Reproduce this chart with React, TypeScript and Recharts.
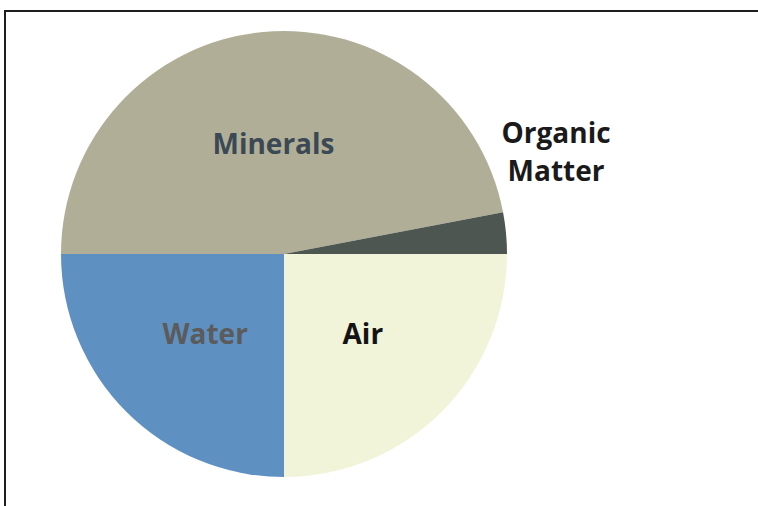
import { Pie, PieChart, Cell } from 'recharts'

const parts = ['Minerals', 'Organic Matter', 'Air', 'Water']
const shares = [47, 3, 25, 25]
const colors = ['#b1ae98', '#4e5651', '#f2f4da', '#5f90c2']
const labelColors = ['#3b4954', '#1a1a1a', '#141414', '#5b5b5b']

const data = parts.map((name, i) => ({ name, value: shares[i] }))

const RAD = Math.PI / 180

function renderLabel(props: any) {
  const { cx, cy, midAngle, outerRadius, index } = props
  const font = { fontFamily: 'Open Sans', fontWeight: 700, fontSize: 28 }
  if (index === 1) {
    // outside label, two lines, up and right of the thin slice
    const x = cx + outerRadius * 1.22
    const y = cy - outerRadius * 0.5
    return (
      <text x={x} y={y} textAnchor="middle" fill={labelColors[index]} style={font}>
        <tspan x={x}>Organic</tspan>
        <tspan x={x} dy="1.36em">Matter</tspan>
      </text>
    )
  }
  const r = outerRadius * 0.5
  const x = cx + r * Math.cos(-midAngle * RAD)
  const y = cy + r * Math.sin(-midAngle * RAD)
  return (
    <text x={x} y={y} textAnchor="middle" dominantBaseline="central" fill={labelColors[index]} style={font}>
      {parts[index]}
    </text>
  )
}

export default function App() {
  return (
    <div style={{ position: 'absolute', left: 0, top: 0, width: 758, height: 506, background: '#fff', overflow: 'hidden' }}>
      <div
        style={{
          position: 'absolute',
          left: 4,
          top: 10,
          width: 760,
          height: 510,
          borderTop: '2px solid #1e1e1e',
          borderLeft: '2px solid #1e1e1e',
        }}
      />
      <div style={{ position: 'absolute', left: 0, top: 0 }}>
        <PieChart width={758} height={506} margin={{ top: 0, right: 0, bottom: 0, left: 0 }}>
          <Pie
            data={data}
            dataKey="value"
            nameKey="name"
            cx={284}
            cy={254}
            outerRadius={223}
            startAngle={180}
            endAngle={-180}
            stroke="none"
            labelLine={false}
            label={renderLabel}
            isAnimationActive={false}
          >
            {data.map((d, i) => (
              <Cell key={d.name} fill={colors[i]} />
            ))}
          </Pie>
        </PieChart>
      </div>
    </div>
  )
}
